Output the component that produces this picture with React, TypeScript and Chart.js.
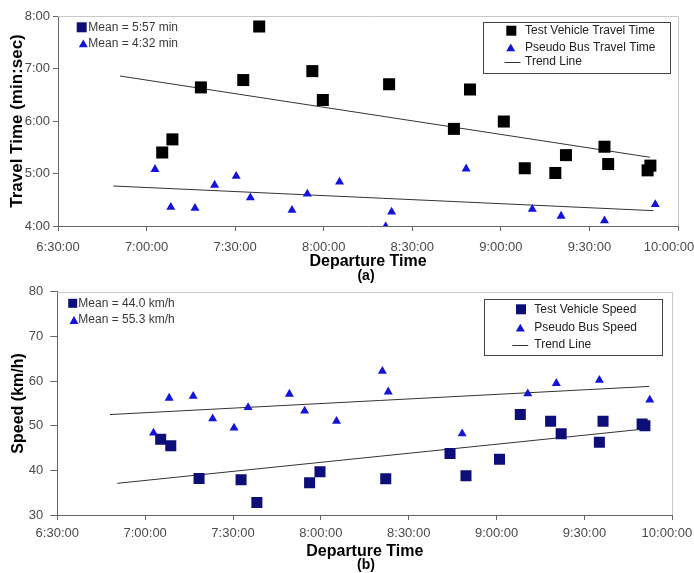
import React, { useEffect, useRef } from 'react';
import { Chart, registerables } from 'chart.js';

Chart.register(...registerables);

// ---------------- data ----------------
const testDepartures = [
  '7:05:18', '7:08:45', '7:18:24', '7:32:45', '7:38:09', '7:56:09', '7:59:42', '8:22:09', '8:44:06',
  '8:49:33', '9:01:00', '9:08:06', '9:18:27', '9:22:03', '9:35:06', '9:36:21', '9:49:42', '9:50:39',
];
const busDepartures = [
  '7:02:51', '7:08:12', '7:16:24', '7:23:03', '7:30:21', '7:35:09', '7:49:15', '7:54:27', '8:05:21',
  '8:21:00', '8:23:00', '8:48:15', '9:10:39', '9:20:24', '9:35:06', '9:52:18',
];
// travel time, minutes
const testTravelTime = [5.4, 5.65, 6.64, 6.78, 7.8, 6.95, 6.4, 6.7, 5.85, 6.6, 5.99, 5.1, 5.01, 5.35, 5.51, 5.18, 5.06, 5.15];
const busTravelTime = [5.08, 4.36, 4.34, 4.78, 4.95, 4.54, 4.3, 4.61, 4.84, 3.99, 4.27, 5.09, 4.32, 4.19, 4.1, 4.41];
// speed, km/h
const testSpeed = [46.95, 45.5, 38.2, 37.9, 32.8, 37.2, 39.7, 38.1, 43.8, 38.8, 42.5, 52.5, 51.0, 48.2, 46.3, 51.0, 50.4, 50.0];
const busSpeed = [48.4, 56.2, 56.6, 51.6, 49.5, 54.1, 57.1, 53.3, 51.0, 62.2, 57.6, 48.2, 57.2, 59.5, 60.2, 55.8];

// trend lines (end points)
const testTravelTrendTimes = ['6:51:00', '9:50:30'];
const testTravelTrend = [6.857, 5.309];
const busTravelTrendTimes = ['6:48:42', '9:51:42'];
const busTravelTrend = [4.762, 4.292];
const testSpeedTrendTimes = ['6:50:30', '9:51:00'];
const testSpeedTrend = [37.1, 49.3];
const busSpeedTrendTimes = ['6:48:00', '9:52:06'];
const busSpeedTrend = [52.5, 58.8];

const xMin = '6:30:00';
const xMax = '10:00:00';
const xStepMinutes = 30;
const travelRange = [4, 8];
const speedRange = [30, 80];

const travelMeanLabels = ['Mean = 5:57 min', 'Mean = 4:32 min'];
const speedMeanLabels = ['Mean = 44.0 km/h', 'Mean = 55.3 km/h'];
const travelLegendLabels = ['Test Vehicle Travel Time', 'Pseudo Bus Travel Time', 'Trend Line'];
const speedLegendLabels = ['Test Vehicle Speed', 'Pseudo Bus Speed', 'Trend Line'];

// ---------------- helpers ----------------
const FONT = "'Liberation Sans', Arial, Helvetica, sans-serif";
const BLUE = '#1414d8';
const NAVY = '#0e0e78';

function toMin(t: string): number {
  const [h, m, s] = t.split(':').map(Number);
  return h * 60 + m + (s || 0) / 60;
}
function fmtClock(v: number): string {
  const h = Math.floor(v / 60);
  const m = Math.round(v - h * 60);
  return `${h}:${String(m).padStart(2, '0')}:00`;
}
const pts = (times: string[], vals: number[]) => times.map((t, i) => ({ x: toMin(t), y: vals[i] }));

function drawMarker(ctx: CanvasRenderingContext2D, shape: string, x: number, y: number, size: number, color: string) {
  ctx.fillStyle = color;
  if (shape === 'rect') {
    ctx.fillRect(x - size / 2, y - size / 2, size, size);
  } else {
    const h = size * 0.87;
    ctx.beginPath();
    ctx.moveTo(x, y - h / 2);
    ctx.lineTo(x + size / 2, y + h / 2);
    ctx.lineTo(x - size / 2, y + h / 2);
    ctx.closePath();
    ctx.fill();
  }
}

const decor = {
  id: 'decor',
  afterDraw(chart: any, _args: any, o: any) {
    const ctx: CanvasRenderingContext2D = chart.ctx;
    const ca = chart.chartArea;
    ctx.save();
    // light plot frame top & right
    ctx.strokeStyle = '#c8c8c8';
    ctx.lineWidth = 1;
    ctx.beginPath();
    ctx.moveTo(ca.left, Math.round(ca.top) + 0.5);
    ctx.lineTo(Math.round(ca.right) + 0.5, Math.round(ca.top) + 0.5);
    ctx.lineTo(Math.round(ca.right) + 0.5, ca.bottom);
    ctx.stroke();

    ctx.textBaseline = 'middle';
    ctx.textAlign = 'left';
    // mean labels
    ctx.font = `12px ${FONT}`;
    for (const it of o.means) {
      drawMarker(ctx, it.shape, it.mx, it.y, it.size, it.color);
      ctx.fillStyle = '#3a3a3a';
      ctx.fillText(it.text, it.tx, it.y);
    }
    // legend box
    const b = o.box;
    ctx.fillStyle = '#ffffff';
    ctx.fillRect(b.x, b.y, b.w, b.h);
    ctx.strokeStyle = '#444';
    ctx.lineWidth = 1;
    ctx.strokeRect(Math.round(b.x) + 0.5, Math.round(b.y) + 0.5, Math.round(b.w), Math.round(b.h));
    for (const it of o.items) {
      if (it.shape === 'line') {
        ctx.strokeStyle = '#333';
        ctx.beginPath();
        ctx.moveTo(it.mx - 8, Math.round(it.y) + 0.5);
        ctx.lineTo(it.mx + 8, Math.round(it.y) + 0.5);
        ctx.stroke();
      } else {
        drawMarker(ctx, it.shape, it.mx, it.y, it.size, it.color);
      }
      ctx.fillStyle = '#222';
      ctx.fillText(it.text, it.tx, it.y);
    }
    // sub caption
    ctx.font = `bold 14px ${FONT}`;
    ctx.textAlign = 'center';
    ctx.fillStyle = '#000';
    ctx.fillText(o.caption, o.capX, o.capY);
    ctx.restore();
  },
};

function makeConfig(p: any): any {
  const tickFont = { family: FONT, size: 13 };
  const maxX = toMin(xMax);
  return {
    type: 'scatter',
    data: {
      datasets: [
        {
          data: p.test, pointStyle: 'rect', pointRadius: p.rectR, backgroundColor: p.rectColor,
          borderWidth: 0, pointBorderWidth: 0, order: 1,
        },
        {
          data: p.bus, pointStyle: 'triangle', pointRadius: 5.2, backgroundColor: BLUE,
          borderWidth: 0, pointBorderWidth: 0, order: 1,
        },
        { data: p.trend1, showLine: true, pointRadius: 0, borderColor: '#333', borderWidth: 1, order: 2 },
        { data: p.trend2, showLine: true, pointRadius: 0, borderColor: '#333', borderWidth: 1, order: 2 },
      ],
    },
    options: {
      responsive: false,
      animation: false,
      devicePixelRatio: 1,
      layout: { padding: { top: p.padTop, right: p.padRight, left: 0, bottom: 0 } },
      plugins: { legend: { display: false }, tooltip: { enabled: false }, decor: p.decor },
      scales: {
        x: {
          type: 'linear',
          min: toMin(xMin),
          max: maxX,
          ticks: {
            stepSize: xStepMinutes, autoSkip: false, maxRotation: 0, padding: p.xTickPad,
            color: '#4a4a4a', font: tickFont,
            callback: (v: number) => (v === maxX ? fmtClock(v) + p.lastPad : fmtClock(v)),
          },
          grid: { drawOnChartArea: false, drawTicks: true, tickLength: 5, color: '#666' },
          border: { color: '#666', width: 1 },
          title: {
            display: true, text: 'Departure Time', color: '#000',
            font: { family: FONT, size: 16, weight: 'bold', lineHeight: 1 },
            padding: { top: 0, bottom: p.xTitlePad },
          },
          afterFit: (s: any) => { s.height = 58; s.paddingLeft = 0; s.paddingRight = 0; },
        },
        y: {
          type: 'linear',
          min: p.yMin,
          max: p.yMax,
          ticks: {
            stepSize: p.yStep, padding: p.yTickPad, color: '#4a4a4a', font: tickFont,
            callback: p.yFmt,
          },
          grid: { drawOnChartArea: false, drawTicks: true, tickLength: p.yTickLen, color: '#666' },
          border: { color: '#666', width: 1 },
          title: {
            display: true, text: p.yTitle, color: '#000',
            font: { family: FONT, size: p.yTitleSize, weight: 'bold', lineHeight: 1 },
            padding: { top: p.yTitleX - p.yTitleSize / 2, bottom: 0 },
          },
          afterFit: (s: any) => { s.width = p.yWidth; s.paddingTop = 0; s.paddingBottom = 0; },
        },
      },
    },
    plugins: [decor],
  };
}

export default function App() {
  const topRef = useRef<HTMLCanvasElement>(null);
  const botRef = useRef<HTMLCanvasElement>(null);

  useEffect(() => {
    const top = new Chart(topRef.current as HTMLCanvasElement, makeConfig({
      test: pts(testDepartures, testTravelTime),
      bus: pts(busDepartures, busTravelTime),
      trend1: pts(testTravelTrendTimes, testTravelTrend),
      trend2: pts(busTravelTrendTimes, busTravelTrend),
      rectR: 8.5, rectColor: '#000000',
      padTop: 16, padRight: 16, xTickPad: 9, xTitlePad: 14, lastPad: '     ',
      yMin: travelRange[0], yMax: travelRange[1], yStep: 1, yTickPad: 3, yTickLen: 5,
      yFmt: (v: number) => `${v}:00`,
      yTitle: 'Travel Time (min:sec)', yTitleSize: 17, yTitleX: 17, yWidth: 58,
      decor: {
        means: [
          { shape: 'rect', mx: 81.7, y: 27.3, size: 10, color: NAVY, tx: 88.3, text: travelMeanLabels[0] },
          { shape: 'tri', mx: 83.3, y: 43.3, size: 9, color: BLUE, tx: 88.3, text: travelMeanLabels[1] },
        ],
        box: { x: 483.3, y: 21.7, w: 187.4, h: 50.6 },
        items: [
          { shape: 'rect', mx: 511.3, y: 30.7, size: 10, color: '#000', tx: 525, text: travelLegendLabels[0] },
          { shape: 'tri', mx: 510.7, y: 47.3, size: 9, color: BLUE, tx: 525, text: travelLegendLabels[1] },
          { shape: 'line', mx: 512.5, y: 62, tx: 525, text: travelLegendLabels[2] },
        ],
        caption: '(a)', capX: 366, capY: 276,
      },
    }));
    const bot = new Chart(botRef.current as HTMLCanvasElement, makeConfig({
      test: pts(testDepartures, testSpeed),
      bus: pts(busDepartures, busSpeed),
      trend1: pts(testSpeedTrendTimes, testSpeedTrend),
      trend2: pts(busSpeedTrendTimes, busSpeedTrend),
      rectR: 7.8, rectColor: NAVY,
      padTop: 7.7, padRight: 21.7, xTickPad: 6, xTitlePad: 13, lastPad: '   ',
      yMin: speedRange[0], yMax: speedRange[1], yStep: 10, yTickPad: 7, yTickLen: 7,
      yFmt: (v: number) => `${v}`,
      yTitle: 'Speed (km/h)', yTitleSize: 16, yTitleX: 18.3, yWidth: 57.3,
      decor: {
        means: [
          { shape: 'rect', mx: 72.7, y: 19.3, size: 9, color: NAVY, tx: 78.3, text: speedMeanLabels[0] },
          { shape: 'tri', mx: 74, y: 36, size: 9, color: BLUE, tx: 78.3, text: speedMeanLabels[1] },
        ],
        box: { x: 484, y: 15, w: 177.7, h: 56 },
        items: [
          { shape: 'rect', mx: 521, y: 25.3, size: 10, color: NAVY, tx: 534.3, text: speedLegendLabels[0] },
          { shape: 'tri', mx: 520.3, y: 43.7, size: 9, color: BLUE, tx: 534.3, text: speedLegendLabels[1] },
          { shape: 'line', mx: 520.3, y: 61, tx: 534.3, text: speedLegendLabels[2] },
        ],
        caption: '(b)', capX: 366, capY: 281,
      },
    }));
    return () => { top.destroy(); bot.destroy(); };
  }, []);

  return (
    <div style={{ position: 'absolute', left: 0, top: 0, width: 694, height: 573, background: '#fff', overflow: 'hidden' }}>
      <canvas ref={topRef} width={694} height={284} style={{ position: 'absolute', left: 0, top: 0, width: 694, height: 284 }} />
      <canvas ref={botRef} width={694} height={289} style={{ position: 'absolute', left: 0, top: 284, width: 694, height: 289 }} />
    </div>
  );
}
